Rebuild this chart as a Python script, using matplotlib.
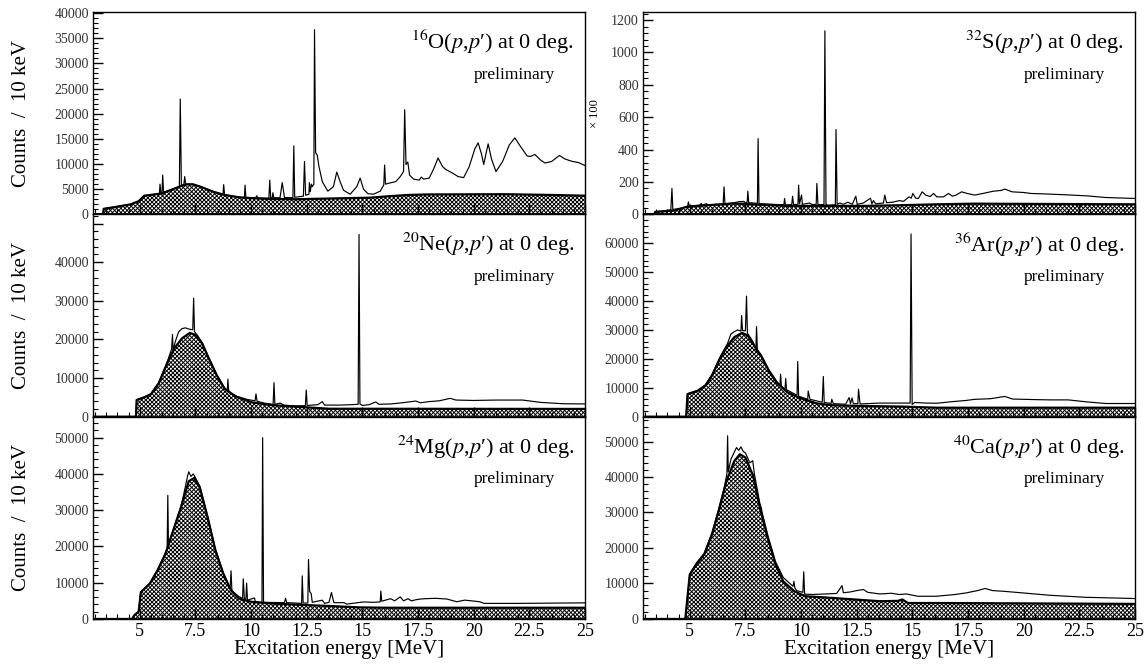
import matplotlib
matplotlib.use("Agg")
import matplotlib.pyplot as plt
from matplotlib.ticker import MultipleLocator, AutoMinorLocator, FuncFormatter

plt.rcParams['font.family'] = ['Liberation Serif', 'DejaVu Serif']
plt.rcParams['mathtext.fontset'] = 'stix'
plt.rcParams['hatch.linewidth'] = 0.7
plt.rcParams['hatch.color'] = 'black'

# ---- 16O(p,p') ----
o16_e = [2.9, 3.35, 3.38, 3.9, 4.6, 4.95, 5.2, 5.65, 5.88, 5.91, 5.95, 6.0, 6.03, 6.07, 6.5, 6.78, 6.82, 6.87,
         6.98, 7.02, 7.06, 7.4, 7.75, 8.3, 8.74, 8.77, 8.81, 9.5, 9.7, 9.73, 9.77, 10.2, 10.26, 10.3, 10.8, 10.84,
         10.88, 10.95, 10.98, 11.02, 11.3, 11.4, 11.5, 11.88, 11.92, 11.96, 12.35, 12.4, 12.45, 12.6, 12.62, 12.66,
         12.71, 12.75, 12.82, 12.85, 12.9, 12.97, 13.05, 13.2, 13.45, 13.7, 13.85, 14.0, 14.15, 14.45, 14.75, 14.9,
         15.05, 15.25, 15.5, 15.8, 15.96, 16.0, 16.04, 16.2, 16.5, 16.7, 16.85, 16.9, 16.96, 17.04, 17.12, 17.3,
         17.55, 17.65, 17.75, 18.0, 18.2, 18.4, 18.6, 18.75, 19.05, 19.3, 19.55, 19.8, 20.05, 20.2, 20.35, 20.45,
         20.55, 20.65, 20.8, 21.0, 21.3, 21.6, 21.85, 22.1, 22.4, 22.55, 22.75, 23.0, 23.2, 23.5, 23.85, 24.1, 24.4,
         24.7, 25.0]
o16_c = [0, 0, 1100, 1480, 2000, 2600, 3700, 3950, 4100, 6000, 4200, 4250, 7800, 4400, 5050, 5500, 22900, 5700,
         5900, 7500, 6000, 6000, 5450, 4500, 3950, 5900, 3900, 3400, 3350, 5800, 3350, 3250, 3700, 3250, 3200, 6800,
         3300, 3300, 4300, 3300, 3300, 6300, 3350, 3300, 13600, 3400, 3600, 10500, 3800, 4000, 6300, 4500,
         6000, 5500, 6000, 36700, 12200, 11800, 9500, 6500, 4600, 5500, 8400, 6500, 4800, 4000, 5500, 7200,
         5000, 4100, 4000, 4600, 5800, 9800, 6000, 6200, 6500, 7500, 8500, 20800, 9900, 10400, 7800, 7000,
         6800, 7400, 7000, 7200, 9000, 11200, 9500, 8900, 8200, 7500, 7300, 9500, 13000, 14200, 12000, 9900,
         12000, 14000, 11000, 8500, 10500, 13800, 15200, 13500, 11600, 11500, 11900, 10800, 10200, 10500, 11700,
         11000, 10550, 10300, 9700]
o16_bg_e = [2.9, 3.35, 3.38, 3.9, 4.6, 4.95, 5.2, 5.65, 6.0, 6.5, 7.05, 7.4, 7.75, 8.3, 8.8, 9.5, 10.55, 12.0,
            13.55, 15.3, 16.2, 17.05, 17.9, 21.4, 23.5, 25.0]
o16_bg_c = [0, 0, 1100, 1450, 2000, 2600, 3700, 3950, 4150, 5000, 5950, 5950, 5450, 4500, 3850, 3350, 3100, 3000,
            3150, 3300, 3600, 3850, 3950, 4000, 3850, 3700]

# ---- 20Ne(p,p') ----
ne_e = [2.9, 4.83, 4.86, 5.2, 5.5, 5.85, 6.2, 6.43, 6.47, 6.5, 6.6, 6.75, 6.9, 7.05, 7.2, 7.38, 7.42, 7.46, 7.6,
        7.8, 8.1, 8.45, 8.8, 8.93, 8.96, 9.0, 9.35, 9.8, 10.18, 10.22, 10.27, 10.6, 10.99, 11.03, 11.07, 11.31,
        11.5, 12.0, 12.44, 12.48, 12.52, 13.0, 13.2, 13.3, 14.0, 14.5, 14.81, 14.85, 14.89, 15.0, 15.3, 15.6,
        15.75, 16.3, 16.8, 17.4, 17.6, 18.0, 18.45, 18.95, 19.2, 20.0, 21.0, 22.2, 23.0, 24.0, 25.0]
ne_c = [0, 0, 4400, 5100, 5900, 8800, 13600, 17500, 21300, 17200, 19500, 22000, 22800, 23000, 22700, 22500, 30700,
        22000, 21000, 19200, 15300, 11000, 7600, 6600, 9700, 6300, 5300, 4500, 4100, 5900, 4000, 3500, 3200, 8800,
        3200, 3500, 2950, 2800, 2850, 6900, 2900, 3100, 3900, 3000, 3000, 3100, 3200, 47200, 3300, 2900, 3100,
        3800, 3200, 3300, 3600, 4050, 3600, 3900, 4100, 4750, 4300, 4200, 4300, 4300, 3700, 3350, 3300]
ne_bg_e = [2.9, 4.83, 4.86, 5.2, 5.5, 5.85, 6.2, 6.55, 6.9, 7.25, 7.5, 7.8, 8.1, 8.45, 8.8, 9.35, 10.05, 10.9,
           12.0, 13.5, 25.0]
ne_bg_c = [0, 0, 4300, 5000, 5800, 8600, 13400, 17700, 20300, 21700, 21200, 19000, 15100, 10800, 7300, 5100,
           3700, 3000, 2600, 2050, 2000]

# ---- 24Mg(p,p') ----
mg_e = [2.9, 4.65, 4.77, 4.95, 5.05, 5.45, 5.8, 6.15, 6.23, 6.26, 6.29, 6.5, 6.85, 7.05, 7.15, 7.2, 7.3, 7.4,
        7.48, 7.7, 8.05, 8.4, 8.75, 9.06, 9.1, 9.14, 9.45, 9.62, 9.65, 9.7, 9.77, 9.8, 9.84, 10.15, 10.2, 10.49,
        10.52, 10.56, 11.0, 11.5, 11.55, 11.6, 12.0, 12.27, 12.3, 12.34, 12.55, 12.58, 12.63, 12.7, 12.75, 13.2,
        13.3, 13.5, 13.61, 13.72, 14.17, 14.3, 15.04, 15.5, 15.8, 15.83, 15.87, 16.27, 16.45, 16.7, 16.85, 17.05,
        17.2, 17.4, 17.6, 17.84, 18.3, 18.8, 19.24, 19.6, 20.28, 20.46, 22.0, 25.0]
mg_c = [0, 0, 1200, 2100, 7500, 9900, 13600, 18200, 19500, 34100, 20500, 24600, 31000, 36500, 39500, 40600,
        39300, 40000, 39200, 36600, 28300, 19200, 12800, 8400, 13300, 7800, 6200, 5700, 11100, 5600, 5500, 9900,
        5200, 5800, 4700, 4600, 50000, 4600, 4550, 4500, 5700, 4500, 4400, 4300, 11900, 4400, 4400, 16400, 7600,
        7000, 4600, 5200, 4300, 4600, 7300, 4500, 4500, 4100, 4700, 4600, 4700, 7700, 4900, 5600, 5000, 6100,
        5000, 5600, 5000, 5300, 5500, 5600, 5700, 5500, 4750, 5200, 4750, 4300, 4300, 4450]
mg_bg_e = [2.9, 4.65, 4.77, 4.95, 5.05, 5.45, 5.8, 6.15, 6.5, 6.85, 7.2, 7.45, 7.7, 8.05, 8.4, 8.75, 9.1, 9.45,
           10.0, 10.85, 12.6, 13.65, 14.85, 16.1, 25.0]
mg_bg_c = [0, 0, 1100, 2000, 7400, 9700, 13400, 17900, 24300, 30700, 38000, 38900, 36200, 28000, 18900, 12500,
           7900, 5650, 4750, 4300, 3800, 3550, 3200, 3100, 3100]

# ---- 32S(p,p')  (x 100) ----
s_e = [2.9, 3.4, 3.45, 3.85, 4.15, 4.2, 4.24, 4.6, 4.9, 4.94, 4.98, 5.5, 5.51, 5.55, 5.76, 5.8, 6.2, 6.5, 6.54,
       6.58, 7.0, 7.2, 7.43, 7.5, 7.58, 7.61, 7.65, 7.87, 8.04, 8.07, 8.11, 8.5, 9.0, 9.23, 9.26, 9.3, 9.58, 9.62,
       9.66, 9.86, 9.89, 9.93, 10.02, 10.06, 10.39, 10.5, 10.68, 10.71, 10.76, 11.03, 11.07, 11.12, 11.23, 11.54,
       11.57, 11.62, 11.74, 11.9, 12.1, 12.3, 12.46, 12.52, 12.8, 13.12, 13.18, 13.25, 13.35, 13.7, 13.76, 13.84,
       14.1, 14.43, 14.6, 14.85, 14.95, 15.02, 15.15, 15.27, 15.44, 15.6, 15.8, 15.95, 16.1, 16.4, 16.62, 16.8,
       16.96, 17.21, 17.46, 17.8, 18.2, 18.64, 19.0, 19.15, 19.48, 19.99, 20.33, 21.17, 22.0, 22.85, 23.69, 25.0]
s_c = [0, 0, 16, 22, 28, 160, 30, 38, 48, 77, 50, 58, 67, 57, 66, 58, 62, 62, 170, 64, 72, 78, 80, 72, 75, 143,
       72, 70, 68, 468, 66, 64, 60, 60, 98, 58, 60, 112, 60, 62, 181, 64, 119, 62, 70, 60, 62, 191, 60, 60, 1134,
       60, 56, 60, 524, 62, 70, 62, 75, 62, 112, 62, 70, 100, 64, 85, 65, 70, 119, 72, 75, 85, 80, 108, 100, 129,
       100, 98, 139, 119, 110, 129, 108, 108, 129, 112, 119, 139, 129, 119, 130, 143, 148, 156, 139, 135, 129,
       125, 120, 114, 104, 98]
s_bg_e = [2.9, 3.4, 3.45, 3.85, 4.35, 4.85, 5.35, 6.0, 6.85, 7.35, 8.05, 9.4, 12.75, 14.4, 16.1, 17.8, 21.2, 25.0]
s_bg_c = [0, 0, 15, 19, 25, 46, 52, 58, 66, 66, 60, 52, 52, 56, 62, 66, 64, 62]

# ---- 36Ar(p,p') ----
ar_e = [2.9, 4.84, 4.9, 5.35, 5.7, 6.0, 6.35, 6.7, 6.85, 7.0, 7.15, 7.3, 7.33, 7.37, 7.5, 7.55, 7.59, 7.85, 7.97,
        8.0, 8.04, 8.2, 8.55, 8.9, 9.05, 9.08, 9.12, 9.28, 9.31, 9.35, 9.82, 9.85, 9.89, 10.3, 10.32, 10.4, 10.95,
        11.0, 11.04, 11.35, 11.38, 11.45, 12.0, 12.16, 12.22, 12.29, 12.35, 12.55, 12.58, 12.65, 13.2, 13.5, 14.0,
        14.5, 14.9, 14.94, 14.99, 15.1, 15.6, 16.1, 16.8, 17.4, 17.8, 18.5, 19.15, 19.5, 20.5, 21.2, 22.0, 22.85,
        23.7, 25.0]
ar_c = [0, 0, 7900, 9100, 11000, 14600, 20500, 25400, 28600, 29400, 30000, 29600, 35000, 29800, 29700, 41700,
        28900, 25800, 23000, 31200, 22500, 21500, 16300, 12300, 10900, 14700, 10300, 9600, 13200, 9300, 7400, 19100,
        7100, 6000, 8900, 6000, 5000, 13900, 4900, 4600, 6000, 4500, 4300, 6600, 4500, 6500, 4500, 4500, 9500, 4400,
        4600, 4700, 4700, 4700, 4700, 63200, 4200, 4900, 4700, 4650, 5200, 5600, 6000, 6200, 7000, 6100, 5900,
        5800, 5800, 5100, 4550, 4550]
ar_bg_e = [2.9, 4.84, 4.9, 5.35, 5.7, 6.0, 6.35, 6.7, 7.0, 7.35, 7.6, 7.85, 8.2, 8.55, 8.9, 9.4, 9.9, 10.7, 11.4,
           12.75, 14.45, 16.1, 25.0]
ar_bg_c = [0, 0, 7800, 8900, 10700, 14200, 20000, 24600, 27500, 29000, 28100, 25200, 21100, 15900, 11800, 8400,
           6600, 4600, 3950, 3700, 3500, 3100, 3100]

# ---- 40Ca(p,p') ----
ca_e = [2.9, 4.8, 5.0, 5.3, 5.65, 6.0, 6.3, 6.55, 6.67, 6.7, 6.73, 6.85, 7.0, 7.1, 7.2, 7.3, 7.4, 7.5, 7.7, 7.83,
        7.9, 8.15, 8.22, 8.25, 8.5, 8.85, 9.2, 9.64, 9.68, 9.72, 9.8, 10.08, 10.12, 10.16, 10.5, 10.9, 11.3, 11.6,
        11.84, 11.9, 12.2, 12.5, 12.8, 13.0, 13.55, 14.06, 14.4, 14.73, 15.24, 16.08, 16.92, 17.42, 17.93, 18.27,
        18.6, 19.1, 19.95, 21.13, 22.81, 24.16, 25.0]
ca_c = [0, 0, 12700, 15800, 18500, 24300, 31000, 37000, 41000, 51600, 41500, 45000, 47000, 48300, 47500, 48500,
        47200, 46800, 44000, 44600, 41000, 32500, 31200, 30000, 23700, 16200, 11700, 9200, 10600, 8800, 8000, 7500,
        13300, 7000, 6900, 7000, 7100, 7200, 9400, 7400, 7600, 8000, 8300, 7500, 7050, 7250, 6900, 7050, 6400,
        6400, 6900, 7350, 8000, 8600, 8000, 7800, 7350, 6700, 6100, 5900, 5750]
ca_bg_e = [2.9, 4.8, 5.0, 5.3, 5.65, 6.0, 6.3, 6.65, 7.0, 7.25, 7.5, 7.85, 8.15, 8.5, 8.85, 9.2, 9.7, 10.2, 11.0,
           12.4, 13.55, 14.35, 14.55, 14.8, 16.1, 25.0]
ca_bg_c = [0, 0, 12500, 15400, 18200, 23800, 30400, 38900, 44500, 46400, 45500, 40300, 31400, 22900, 15400,
           10600, 7800, 6400, 6100, 5500, 5000, 5100, 5500, 4500, 4500, 4250]

titles = [r'$^{16}$O($p$,$p$′) at 0 deg.', r'$^{32}$S($p$,$p$′) at 0 deg.',
          r'$^{20}$Ne($p$,$p$′) at 0 deg.', r'$^{36}$Ar($p$,$p$′) at 0 deg.',
          r'$^{24}$Mg($p$,$p$′) at 0 deg.', r'$^{40}$Ca($p$,$p$′) at 0 deg.']

# row, col, spectrum, background, ymax, major step, largest labelled tick
panels = [
    (0, 0, o16_e, o16_c, o16_bg_e, o16_bg_c, 40200, 5000, 40000),
    (0, 1, s_e, s_c, s_bg_e, s_bg_c, 1250, 200, 1200),
    (1, 0, ne_e, ne_c, ne_bg_e, ne_bg_c, 52400, 10000, 40000),
    (1, 1, ar_e, ar_c, ar_bg_e, ar_bg_c, 70000, 10000, 60000),
    (2, 0, mg_e, mg_c, mg_bg_e, mg_bg_c, 55800, 10000, 50000),
    (2, 1, ca_e, ca_c, ca_bg_e, ca_bg_c, 57000, 10000, 50000),
]

fig = plt.figure(figsize=(11.47, 6.64), dpi=100)
col_x = [93 / 1147, 643 / 1147]
ax_w = 492 / 1147
ax_h = 0.3047
row_y = [0.6772, 0.3725, 0.0678]

for i, (r, c, e, cnt, be, bc, ymax, step, labmax) in enumerate(panels):
    ax = fig.add_axes([col_x[c], row_y[r], ax_w, ax_h])
    ax.fill_between(be, bc, 0, facecolor='white', edgecolor='black', hatch='x' * 8, linewidth=0)
    ax.plot(be, bc, color='black', lw=1.6)
    ax.plot(e, cnt, color='black', lw=0.85)
    ax.axhline(0, color='black', lw=1.2)
    ax.set_xlim(2.9, 25)
    ax.set_ylim(0, ymax)

    ax.xaxis.set_major_locator(MultipleLocator(2.5))
    ax.xaxis.set_minor_locator(MultipleLocator(0.5))
    ax.yaxis.set_major_locator(MultipleLocator(step))
    ax.yaxis.set_minor_locator(AutoMinorLocator(5))
    ax.yaxis.set_major_formatter(FuncFormatter(lambda v, p, m=labmax: f'{v:.0f}' if v <= m + 1 else ''))
    ax.tick_params(which='both', direction='in', top=False, right=False)
    ax.tick_params(which='major', length=7, width=1.0)
    ax.tick_params(which='minor', length=3.5, width=0.8)
    ax.tick_params(axis='y', labelsize=10, pad=3, labelcolor='#333333')
    ax.tick_params(axis='x', labelsize=13, pad=3)
    for sp in ax.spines.values():
        sp.set_linewidth(1.0)

    if r < 2:
        ax.tick_params(axis='x', labelbottom=False)
    else:
        ax.set_xticks([5, 7.5, 10, 12.5, 15, 17.5, 20, 22.5, 25])
        ax.set_xticklabels(['5', '7.5', '10', '12.5', '15', '17.5', '20', '22.5', '25'])
        ax.set_xlabel('Excitation energy [MeV]', fontsize=15, labelpad=0)

    if c == 0:
        ax.set_ylabel('Counts  /  10 keV', fontsize=15)
        ax.yaxis.set_label_coords(-0.125, 0.5)
    elif r == 0:
        ax.set_ylabel('× 100', fontsize=9)
        ax.yaxis.set_label_coords(-0.085, 0.5)

    ax.text(0.978, 0.85, titles[i], transform=ax.transAxes, ha='right', va='center', fontsize=16)
    ax.text(0.94, 0.69, 'preliminary', transform=ax.transAxes, ha='right', va='center', fontsize=12.5)

fig.savefig('out.png', dpi=100)
